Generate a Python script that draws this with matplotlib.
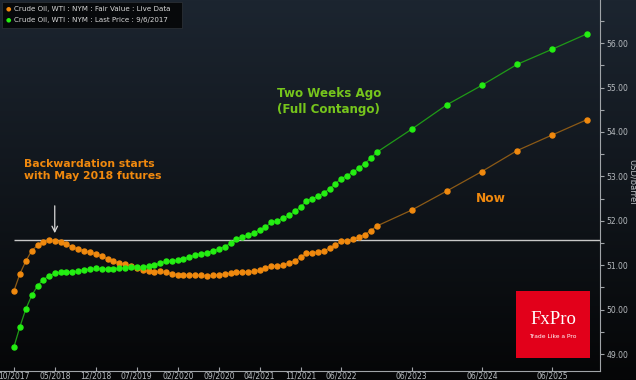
import numpy as np
import pandas as pd
import matplotlib
matplotlib.use("Agg")
import matplotlib.pyplot as plt
import matplotlib.dates as mdates

# contract months: monthly to 12/2022, then half-yearly
contracts = list(pd.date_range("2017-10-01", "2022-12-01", freq="MS")) + \
    list(pd.to_datetime(["2023-06-01", "2023-12-01", "2024-06-01",
                         "2024-12-01", "2025-06-01", "2025-12-01"]))

# Fair value : live data (now)
fair_value = [50.43, 50.81, 51.09, 51.33, 51.45, 51.53, 51.57, 51.55, 51.53, 51.47,
              51.41, 51.36, 51.33, 51.29, 51.26, 51.21, 51.14, 51.09, 51.05, 51.02,
              50.98, 50.94, 50.90, 50.86, 50.85, 50.86, 50.84, 50.81, 50.79, 50.78,
              50.78, 50.78, 50.77, 50.76, 50.77, 50.79, 50.80, 50.82, 50.85, 50.85,
              50.85, 50.86, 50.89, 50.93, 50.99, 50.98, 51.00, 51.05, 51.10, 51.18,
              51.27, 51.28, 51.30, 51.33, 51.38, 51.45, 51.55, 51.55, 51.58, 51.64,
              51.69, 51.78, 51.88,
              52.24, 52.67, 53.11, 53.58, 53.93, 54.28]

# Last price 9/6/2017 (two weeks ago)
last_price = [49.17, 49.62, 50.01, 50.32, 50.54, 50.67, 50.76, 50.82, 50.84, 50.85,
              50.85, 50.87, 50.90, 50.91, 50.93, 50.92, 50.92, 50.92, 50.93, 50.94,
              50.95, 50.95, 50.96, 50.98, 51.00, 51.04, 51.09, 51.09, 51.12, 51.15,
              51.18, 51.23, 51.26, 51.28, 51.33, 51.36, 51.42, 51.49, 51.58, 51.64,
              51.67, 51.73, 51.79, 51.85, 51.97, 52.00, 52.06, 52.12, 52.21, 52.31,
              52.45, 52.50, 52.55, 52.63, 52.72, 52.84, 52.95, 53.02, 53.10, 53.19,
              53.29, 53.41, 53.54,
              54.06, 54.61, 55.05, 55.52, 55.86, 56.21]

tick_labels = ["10/2017", "05/2018", "12/2018", "07/2019", "02/2020", "09/2020",
               "04/2021", "11/2021", "06/2022", "06/2023", "06/2024", "06/2025"]
peak_level = 51.57

ORANGE = "#f0890e"
GREEN = "#24ee12"
TXT = "#b8bcc0"

fig = plt.figure(figsize=(6.36, 3.8), dpi=100)

# background gradient
bg = fig.add_axes([0, 0, 1, 1], zorder=-10)
grad = np.linspace(0, 1, 256).reshape(-1, 1)
cmap = matplotlib.colors.LinearSegmentedColormap.from_list("bg", ["#1c2530", "#050607"])
bg.imshow(grad, aspect="auto", cmap=cmap, extent=[0, 1, 0, 1])
bg.axis("off")

ax = fig.add_axes([0, 9 / 380, 600 / 636, 371 / 380])
ax.patch.set_alpha(0)

ax.plot(contracts, fair_value, color="#8c5a16", lw=0.9, marker="o", ms=3.6,
        mfc=ORANGE, mec=ORANGE, zorder=3)
ax.plot(contracts, last_price, color="#1f9a17", lw=0.9, marker="o", ms=3.6,
        mfc=GREEN, mec=GREEN, zorder=3)

x0 = mdates.date2num(contracts[0])
x1 = mdates.date2num(contracts[-1])
ax.set_xlim(x0 - 73, x1 + 67)
ax.set_ylim(48.62, 56.97)
ax.hlines(peak_level, x0, x1 + 67, color="#c8c8c8", lw=1.0, zorder=2)

tick_dates = pd.to_datetime(["01/" + t for t in tick_labels], format="%d/%m/%Y")
ax.set_xticks(mdates.date2num(tick_dates))
ax.set_xticklabels(tick_labels)
ax.set_yticks(np.arange(49, 57, 1.0))
ax.set_yticklabels(["%.2f" % v for v in np.arange(49, 57, 1.0)])
ax.set_yticks(np.arange(49.5, 57, 1.0), minor=True)
ax.yaxis.tick_right()
ax.tick_params(axis="y", which="both", colors="#a0a4a8", labelcolor=TXT,
               labelsize=5.5, length=3, width=0.8, pad=1.5)
ax.tick_params(axis="x", colors="#a0a4a8", labelcolor=TXT, labelsize=5.5,
               length=3, width=0.8, direction="in", pad=0.3)
ax.set_ylabel("USD/barrel", color=TXT, fontsize=6, rotation=270, va="center")
ax.yaxis.set_label_coords(632 / 600, 0.51)
for s in ["top", "left"]:
    ax.spines[s].set_visible(False)
for s in ["right", "bottom"]:
    ax.spines[s].set_color("#a0a4a8")
    ax.spines[s].set_linewidth(0.8)

# legend box
fig.patches.append(matplotlib.patches.Rectangle(
    (2 / 636, 1 - 28 / 380), 180 / 636, 26 / 380, transform=fig.transFigure,
    facecolor="#07090b", edgecolor="#2a2f35", lw=0.6, zorder=5))
fig.text(8 / 636, 1 - 9 / 380, "\u25cf", color=ORANGE, fontsize=4.5, va="center", ha="center", zorder=6)
fig.text(8 / 636, 1 - 20 / 380, "\u25cf", color=GREEN, fontsize=4.5, va="center", ha="center", zorder=6)
fig.text(14 / 636, 1 - 9 / 380, "Crude Oil, WTI : NYM : Fair Value : Live Data",
         color="#d8d8d8", fontsize=5.1, va="center", zorder=6)
fig.text(14 / 636, 1 - 20 / 380, "Crude Oil, WTI : NYM : Last Price : 9/6/2017",
         color="#d8d8d8", fontsize=5.1, va="center", zorder=6)

# annotations
ax.annotate("", xy=(mdates.date2num(contracts[7]), 51.66),
            xytext=(mdates.date2num(contracts[7]), 52.4),
            arrowprops=dict(arrowstyle="->", color="#d8d8d8", lw=0.9))
ax.text(24 / 600, 1 - 159 / 371, "Backwardation starts\nwith May 2018 futures",
        transform=ax.transAxes, color=ORANGE, fontsize=7.8, fontweight="bold",
        va="top", ha="left", linespacing=1.3)
ax.text(277 / 600, 1 - 87 / 371, "Two Weeks Ago\n(Full Contango)",
        transform=ax.transAxes, color="#76c51c", fontsize=8.6, fontweight="bold",
        va="top", ha="left", linespacing=1.25)
ax.text(491 / 600, 1 - 199 / 371, "Now", transform=ax.transAxes, color=ORANGE,
        fontsize=8.8, fontweight="bold", va="center", ha="center")

# FxPro logo
fig.patches.append(matplotlib.patches.Rectangle(
    (516 / 636, 1 - 358 / 380), 74 / 636, 67 / 380, transform=fig.transFigure,
    facecolor="#e2001a", edgecolor="none", zorder=5))
fig.text(553 / 636, 1 - 320 / 380, "FxPro", color="white", fontsize=13.5,
         family="Liberation Serif", ha="center", va="center", zorder=6)
fig.text(553 / 636, 1 - 336 / 380, "Trade Like a Pro", color="white", fontsize=4.3,
         ha="center", va="center", zorder=6)

fig.savefig("out.png", dpi=100, facecolor="#050607")
